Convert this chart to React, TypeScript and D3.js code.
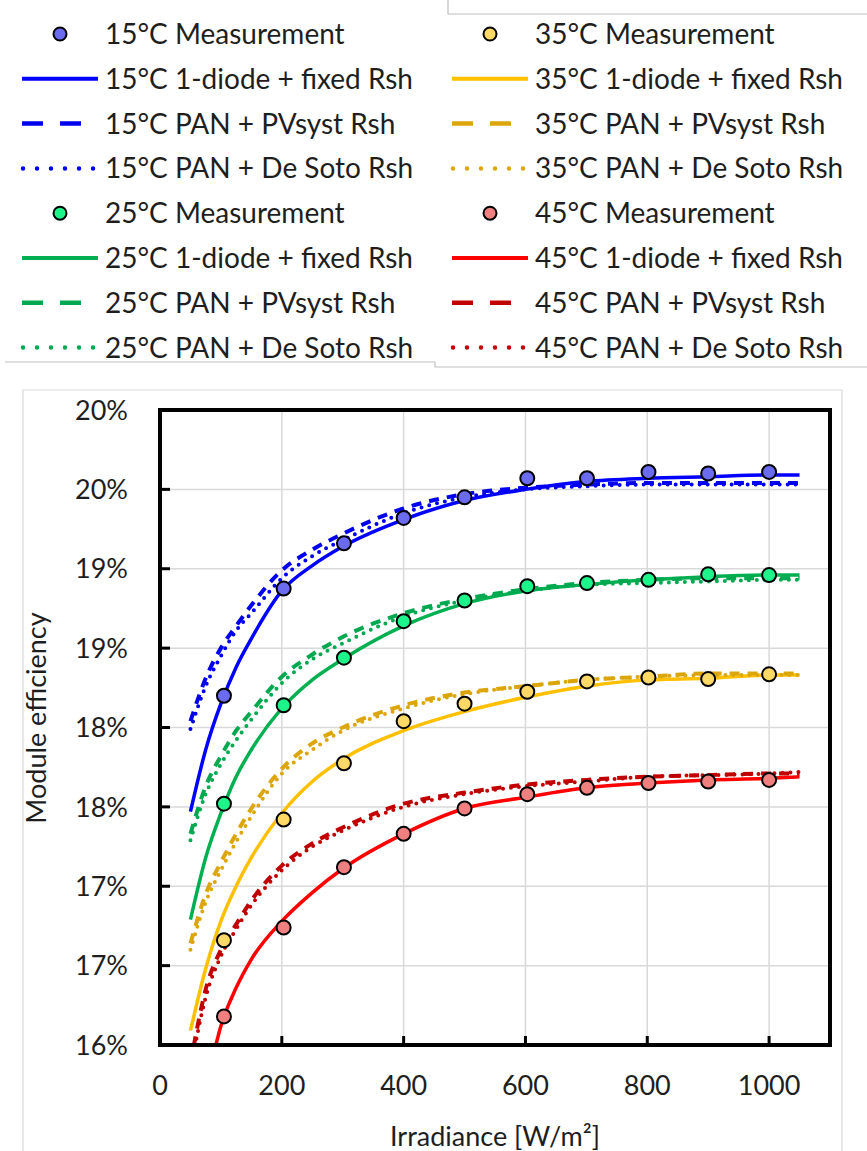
import React from 'react';
import { scaleLinear, line, curveMonotoneX } from 'd3';

document.body.style.margin = '0';

// measurement irradiance [W/m2]
const measG = [105, 203, 302, 400, 500, 603, 701, 802, 900, 1000];
// measured efficiency [%]
const meas15 = [18.2, 18.875, 19.16, 19.32, 19.45, 19.57, 19.57, 19.61, 19.6, 19.61];
const meas25 = [17.52, 18.14, 18.44, 18.67, 18.8, 18.89, 18.91, 18.93, 18.965, 18.96];
const meas35 = [16.66, 17.42, 17.775, 18.04, 18.15, 18.225, 18.29, 18.315, 18.305, 18.335];
const meas45 = [16.18, 16.74, 17.12, 17.33, 17.49, 17.58, 17.62, 17.65, 17.66, 17.67];

// model irradiance grid
const modelG = [50, 75, 100, 125, 150, 200, 250, 300, 400, 500, 600, 700, 800, 900, 1000, 1050];
// 1-diode + fixed Rsh
const fixed15 = [17.47, 17.86, 18.15, 18.38, 18.56, 18.86, 19.02, 19.14, 19.31, 19.43, 19.5, 19.55, 19.57, 19.58, 19.59, 19.59];
const fixed25 = [16.79, 17.18, 17.46, 17.69, 17.86, 18.12, 18.3, 18.43, 18.64, 18.78, 18.86, 18.9, 18.93, 18.95, 18.96, 18.96];
const fixed35 = [16.09, 16.48, 16.78, 17.0, 17.18, 17.46, 17.66, 17.8, 17.98, 18.1, 18.19, 18.26, 18.3, 18.31, 18.33, 18.33];
const fixed45 = [15.3, 15.72, 16.12, 16.36, 16.54, 16.78, 16.96, 17.11, 17.33, 17.49, 17.56, 17.62, 17.65, 17.67, 17.68, 17.69];
// PAN + PVsyst Rsh
const pvsyst15 = [18.04, 18.31, 18.5, 18.64, 18.77, 18.99, 19.12, 19.22, 19.38, 19.47, 19.51, 19.53, 19.54, 19.54, 19.54, 19.54];
const pvsyst25 = [17.33, 17.63, 17.82, 17.98, 18.1, 18.32, 18.46, 18.57, 18.72, 18.81, 18.87, 18.91, 18.93, 18.94, 18.94, 18.94];
const pvsyst35 = [16.64, 16.95, 17.15, 17.33, 17.49, 17.74, 17.9, 18.0, 18.14, 18.22, 18.26, 18.3, 18.32, 18.34, 18.34, 18.34];
const pvsyst45 = [15.88, 16.35, 16.6, 16.76, 16.91, 17.13, 17.27, 17.37, 17.52, 17.59, 17.64, 17.67, 17.69, 17.7, 17.71, 17.71];
// PAN + De Soto Rsh
const desoto15 = [17.99, 18.26, 18.45, 18.61, 18.72, 18.94, 19.08, 19.18, 19.35, 19.45, 19.5, 19.52, 19.53, 19.53, 19.53, 19.53];
const desoto25 = [17.29, 17.58, 17.77, 17.92, 18.05, 18.28, 18.43, 18.53, 18.7, 18.8, 18.86, 18.9, 18.91, 18.92, 18.93, 18.93];
const desoto35 = [16.6, 16.9, 17.1, 17.28, 17.44, 17.71, 17.86, 17.98, 18.12, 18.21, 18.26, 18.3, 18.32, 18.33, 18.33, 18.33];
const desoto45 = [15.84, 16.3, 16.56, 16.73, 16.88, 17.1, 17.25, 17.35, 17.5, 17.58, 17.63, 17.66, 17.69, 17.7, 17.71, 17.72];

const temps = ['15°C', '25°C', '35°C', '45°C'];
const xTicks = [0, 200, 400, 600, 800, 1000];
const yTicks = [16, 16.5, 17, 17.5, 18, 18.5, 19, 19.5, 20];
const yTickLabels = ['16%', '17%', '17%', '18%', '18%', '19%', '19%', '20%', '20%'];
const legendKinds = ['Measurement', '1-diode + fixed Rsh', 'PAN + PVsyst Rsh', 'PAN + De Soto Rsh'];

const styles = [
  { line: '#0000FF', model: '#0000EE', marker: '#6B6BF0' },
  { line: '#00B050', model: '#00A84F', marker: '#1DF58A' },
  { line: '#FFC000', model: '#DCA60A', marker: '#FFD966' },
  { line: '#FF0000', model: '#C00000', marker: '#F08080' },
];

const series = temps.map((t, i) => ({
  temp: t,
  meas: [meas15, meas25, meas35, meas45][i],
  fixed: [fixed15, fixed25, fixed35, fixed45][i],
  pvsyst: [pvsyst15, pvsyst25, pvsyst35, pvsyst45][i],
  desoto: [desoto15, desoto25, desoto35, desoto45][i],
  ...styles[i],
}));

const FONT = 'Lato, "Open Sans", sans-serif';
const TEXT = '#1e1e1e';

const App = () => {
  const left = 160;
  const right = 830;
  const top = 410;
  const bottom = 1045;

  const x = scaleLinear().domain([0, 1100]).range([left, right]);
  const y = scaleLinear().domain([16, 20]).range([bottom, top]);

  const path = line<number>()
    .x((_, i) => x(modelG[i]))
    .y((d) => y(d))
    .curve(curveMonotoneX);

  const legendRow = (col: number, row: number) => {
    const s = series[col * 2 + Math.floor(row / 4)];
    const kind = row % 4;
    const x0 = col === 0 ? 22 : 452;
    const x1 = col === 0 ? 98 : 528;
    const mx = col === 0 ? 60 : 490;
    const tx = col === 0 ? 105 : 535;
    const cy = 34 + row * 44.8;
    let sym;
    if (kind === 0) {
      sym = <circle cx={mx} cy={cy} r={6.5} fill={s.marker} stroke="#000" strokeWidth={2} />;
    } else if (kind === 1) {
      sym = <line x1={x0} x2={x1} y1={cy} y2={cy} stroke={s.line} strokeWidth={4} />;
    } else if (kind === 2) {
      sym = <line x1={x0} x2={x1} y1={cy} y2={cy} stroke={s.model} strokeWidth={4.5} strokeDasharray="21 17" />;
    } else {
      sym = <line x1={x0 + 1} x2={x1} y1={cy} y2={cy} stroke={s.model} strokeWidth={4.5} strokeLinecap="round" strokeDasharray="0 14" />;
    }
    return (
      <g key={`${col}-${row}`}>
        {sym}
        <text x={tx} y={cy} dy="0.36em" fontSize={28} fontFamily={FONT} fill={TEXT}>
          {`${s.temp} ${legendKinds[kind]}`}
        </text>
      </g>
    );
  };

  return (
    <svg width={867} height={1151} style={{ display: 'block', background: '#fff' }}>
      <defs>
        <clipPath id="plot">
          <rect x={left} y={top} width={right - left} height={bottom - top} />
        </clipPath>
      </defs>

      {/* legend frames */}
      <path d="M5,362 H435 V367 H867" fill="none" stroke="#bfbfbf" strokeWidth={1.2} />
      <path d="M448,0 V14 H867" fill="none" stroke="#bfbfbf" strokeWidth={1.2} />
      {[0, 1].map((c) => [0, 1, 2, 3, 4, 5, 6, 7].map((r) => legendRow(c, r)))}

      {/* chart area frame */}
      <path d="M23,1151 V390 H842 V1151" fill="none" stroke="#d9d9d9" strokeWidth={1.2} />

      {/* grid */}
      {xTicks.slice(1).map((t) => (
        <line key={`gx${t}`} x1={x(t)} x2={x(t)} y1={top} y2={bottom} stroke="#d9d9d9" strokeWidth={1.5} />
      ))}
      {yTicks.slice(1, -1).map((t) => (
        <line key={`gy${t}`} x1={left} x2={right} y1={y(t)} y2={y(t)} stroke="#d9d9d9" strokeWidth={1.5} />
      ))}

      {/* model curves */}
      <g clipPath="url(#plot)" fill="none">
        {series.map((s) => (
          <g key={s.temp}>
            <path d={path(s.fixed) || ''} stroke={s.line} strokeWidth={3.5} />
            <path d={path(s.pvsyst) || ''} stroke={s.model} strokeWidth={4} strokeDasharray="10 8" />
            <path d={path(s.desoto) || ''} stroke={s.model} strokeWidth={4} strokeLinecap="round" strokeDasharray="0 8" />
          </g>
        ))}
      </g>

      {/* measurements */}
      {series.map((s) =>
        s.meas.map((v, i) => (
          <circle key={`${s.temp}-${i}`} cx={x(measG[i])} cy={y(v)} r={7} fill={s.marker} stroke="#000" strokeWidth={2} />
        ))
      )}

      {/* frame and ticks */}
      <rect x={left} y={top} width={right - left} height={bottom - top} fill="none" stroke="#000" strokeWidth={4} />
      {yTicks.slice(1, -1).map((t) => (
        <line key={`ty${t}`} x1={left} x2={left + 10} y1={y(t)} y2={y(t)} stroke="#000" strokeWidth={3} />
      ))}
      {xTicks.slice(1).map((t) => (
        <line key={`tx${t}`} x1={x(t)} x2={x(t)} y1={bottom} y2={bottom - 9} stroke="#000" strokeWidth={3} />
      ))}

      {/* tick labels */}
      {yTicks.map((t, i) => (
        <text key={`ly${t}`} x={128} y={y(t)} dy="0.36em" textAnchor="end" fontSize={27} fontFamily={FONT} fill={TEXT}>
          {yTickLabels[i]}
        </text>
      ))}
      {xTicks.map((t) => (
        <text key={`lx${t}`} x={x(t)} y={1095} textAnchor="middle" fontSize={27} fontFamily={FONT} fill={TEXT}>
          {t}
        </text>
      ))}

      {/* axis titles */}
      <text x={495} y={1146} textAnchor="middle" fontSize={27} fontFamily={FONT} fill={TEXT}>
        Irradiance [W/m²]
      </text>
      <text
        transform="translate(46,718) rotate(-90)"
        textAnchor="middle"
        fontSize={27}
        fontFamily={FONT}
        fill={TEXT}
      >
        Module efficiency
      </text>
    </svg>
  );
};

export default App;
